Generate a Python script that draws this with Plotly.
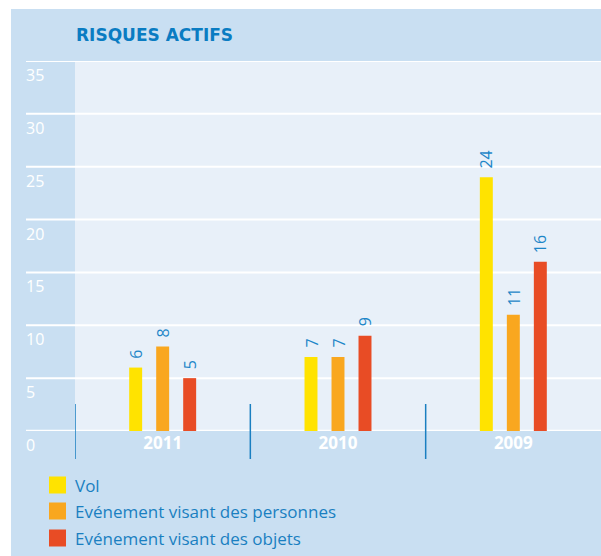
import plotly.graph_objects as go

title_text = "RISQUES ACTIFS"
years = ["2011", "2010", "2009"]
series_names = ["Vol", "Evénement visant des personnes", "Evénement visant des objets"]
vol = [6, 7, 24]
personnes = [8, 7, 11]
objets = [5, 9, 16]
y_ticks = [0, 5, 10, 15, 20, 25, 30, 35]

series_values = [vol, personnes, objets]
colors = ["#ffe300", "#f9a71f", "#e84c25"]
label_color = "#1d86c8"
blue_bg = "#c9dff2"
plot_bg = "#e8f0f9"

W, H = 601, 556
L, R, T, B = 75, 601, 61, 431   # plot area in figure pixels
pw, ph = R - L, B - T

def px_x(p):
    return (p - L) / pw

def px_y(p):
    return (B - p) / ph

fig = go.Figure()

for name, vals, col in zip(series_names, series_values, colors):
    fig.add_trace(go.Bar(x=years, y=vals, name=name, marker=dict(color=col, line=dict(width=0)),
                         showlegend=False, hoverinfo="x+y+name"))

shapes = []
shapes.append(dict(type="rect", xref="paper", yref="paper", layer="below",
                   x0=px_x(11), x1=px_x(610), y0=px_y(560), y1=px_y(9),
                   fillcolor=blue_bg, line=dict(width=0)))
shapes.append(dict(type="rect", xref="paper", yref="paper", layer="below",
                   x0=0, x1=1, y0=0, y1=1, fillcolor=plot_bg, line=dict(width=0)))
for t in y_ticks:
    shapes.append(dict(type="line", xref="paper", yref="y", layer="below",
                       x0=px_x(26), x1=1, y0=t, y1=t,
                       line=dict(color="white", width=2.5 if t == 0 else 2)))
for i in range(len(years)):
    shapes.append(dict(type="line", xref="x", yref="paper",
                       x0=i - 0.5, x1=i - 0.5, y0=px_y(459), y1=px_y(404),
                       line=dict(color="#1a7fc1", width=1.5)))

annotations = []
annotations.append(dict(text="<b>" + title_text + "</b>", xref="paper", yref="paper",
                        x=px_x(74), y=px_y(35), xanchor="left", yanchor="middle",
                        showarrow=False,
                        font=dict(family="DejaVu Sans", size=17, color="#0a7cc2")))
for t in y_ticks:
    annotations.append(dict(text=str(t), xref="paper", yref="y", x=px_x(24), y=t,
                            xanchor="left", yanchor="top", yshift=-1, showarrow=False,
                            font=dict(family="Open Sans", size=16, color="white")))
offsets = [-27, 0, 27]
for vals, off in zip(series_values, offsets):
    for i, v in enumerate(vals):
        annotations.append(dict(text=str(v), xref="x", yref="y", x=i, y=v,
                                xshift=off, yshift=7, xanchor="center", yanchor="bottom",
                                textangle=-90, showarrow=False,
                                font=dict(family="Open Sans", size=16, color=label_color)))
leg_rows = [485, 511, 538]
for name, col, cy in zip(series_names, colors, leg_rows):
    shapes.append(dict(type="rect", xref="paper", yref="paper",
                       x0=px_x(49), x1=px_x(66), y0=px_y(cy + 8.5), y1=px_y(cy - 8.5),
                       fillcolor=col, line=dict(width=0)))
    annotations.append(dict(text=name, xref="paper", yref="paper", x=px_x(73), y=px_y(cy),
                            xanchor="left", yanchor="middle", showarrow=False,
                            font=dict(family="Open Sans", size=17, color="#1a7fc1")))

fig.update_layout(
    width=W, height=H,
    margin=dict(l=L, r=W - R, t=T, b=H - B, pad=0),
    paper_bgcolor="white",
    plot_bgcolor="rgba(0,0,0,0)",
    barmode="group",
    bargap=0.538,
    bargroupgap=0.52,
    shapes=shapes,
    annotations=annotations,
    showlegend=False,
    xaxis=dict(type="category", range=[-0.5, 2.5], showgrid=False, zeroline=False,
               showline=False, ticks="",
               tickfont=dict(family="Open Sans", size=17, color="white", weight="bold")),
    yaxis=dict(range=[0, 35], showgrid=False, zeroline=False, showticklabels=False,
               showline=False, ticks=""),
)

fig.write_html("out.html", config={"displayModeBar": False},
               post_script="document.body.style.margin='0';document.body.style.overflow='hidden';")
